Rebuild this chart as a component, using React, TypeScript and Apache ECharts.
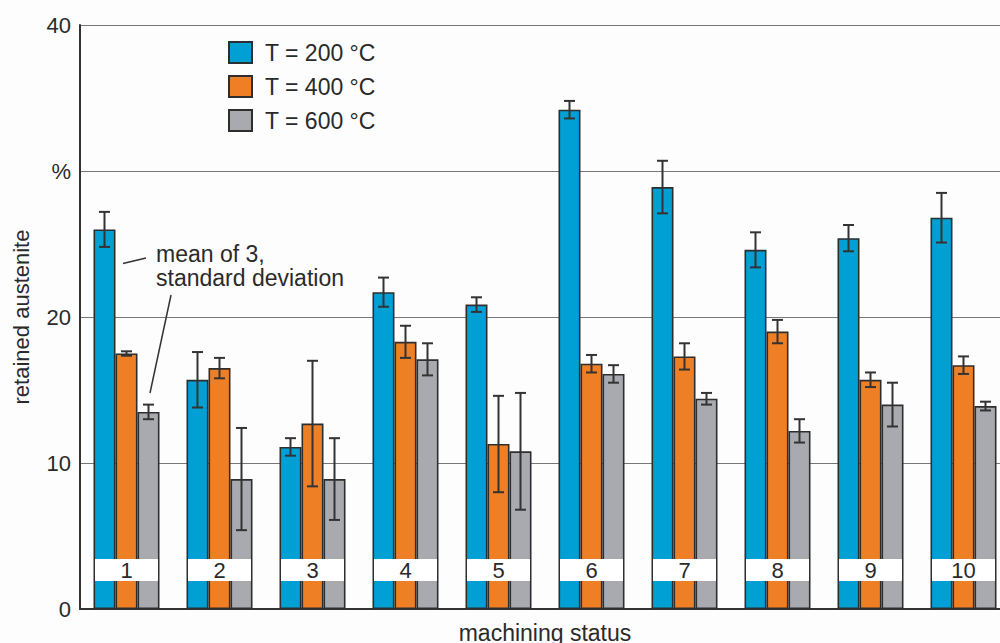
import React, { useEffect, useRef } from "react";
import * as echarts from "echarts";

const categories = ["1", "2", "3", "4", "5", "6", "7", "8", "9", "10"];
const seriesNames = ["T = 200 °C", "T = 400 °C", "T = 600 °C"];
const yTickLabels: Record<number, string> = { 0: "0", 10: "10", 20: "20", 30: "%", 40: "40" };

const mean200 = [26.0, 15.7, 11.1, 21.7, 20.85, 34.2, 28.9, 24.6, 25.4, 26.8];
const sd200 = [1.2, 1.9, 0.6, 1.0, 0.5, 0.6, 1.8, 1.2, 0.9, 1.7];
const mean400 = [17.5, 16.5, 12.7, 18.3, 11.3, 16.8, 17.3, 19.0, 15.7, 16.7];
const sd400 = [0.15, 0.7, 4.3, 1.1, 3.3, 0.6, 0.9, 0.8, 0.5, 0.6];
const mean600 = [13.5, 8.9, 8.9, 17.1, 10.8, 16.1, 14.4, 12.2, 14.0, 13.9];
const sd600 = [0.5, 3.5, 2.8, 1.1, 4.0, 0.6, 0.4, 0.8, 1.5, 0.3];

const colors = ["#009FD4", "#EE7F24", "#A8AAAF"];
const FONT = "'Liberation Sans', Arial, Helvetica, sans-serif";
const BAR_W = 22;

export default function App() {
  const ref = useRef<HTMLDivElement>(null);
  useEffect(() => {
    const chart = echarts.init(ref.current!, null, { renderer: "svg" });
    const means = [mean200, mean400, mean600];
    const sds = [sd200, sd400, sd600];

    const barSeries = means.map((m, s) => ({
      type: "bar",
      name: seriesNames[s],
      data: m,
      barWidth: BAR_W,
      barGap: "0%",
      z: 2,
      itemStyle: { color: colors[s], borderColor: "#2E2E2E", borderWidth: 1.6 },
    }));

    const errSeries = means.map((m, s) => ({
      type: "custom",
      z: 5,
      data: m.map((v, i) => [i, v - sds[s][i], v + sds[s][i]]),
      encode: { x: 0, y: [1, 2] },
      renderItem: (params: any, api: any) => {
        const i = api.value(0);
        const lo = api.coord([i, api.value(1)]);
        const hi = api.coord([i, api.value(2)]);
        const x = lo[0] + (s - 1) * BAR_W;
        const half = 5.5;
        const st = { stroke: "#333", lineWidth: 2 };
        return {
          type: "group",
          children: [
            { type: "line", shape: { x1: x, y1: hi[1], x2: x, y2: lo[1] }, style: st },
            { type: "line", shape: { x1: x - half, y1: hi[1], x2: x + half, y2: hi[1] }, style: st },
            { type: "line", shape: { x1: x - half, y1: lo[1], x2: x + half, y2: lo[1] }, style: st },
          ],
        };
      },
    }));

    const labelSeries = {
      type: "custom",
      z: 10,
      data: categories.map((c, i) => [i, 0]),
      encode: { x: 0, y: 1 },
      renderItem: (params: any, api: any) => {
        const i = api.value(0);
        const p = api.coord([i, 0]);
        return {
          type: "group",
          children: [
            { type: "rect", shape: { x: p[0] - 31.5, y: p[1] - 50, width: 63, height: 22 }, style: { fill: "#ffffff" } },
            {
              type: "text",
              style: {
                text: categories[i],
                x: p[0],
                y: p[1] - 38.5,
                align: "center",
                verticalAlign: "middle",
                fontSize: 22,
                fontFamily: FONT,
                fill: "#2a2a2a",
              },
            },
          ],
        };
      },
    };

    const option: any = {
      animation: false,
      backgroundColor: "#fdfdfd",
      textStyle: { fontFamily: FONT },
      grid: { left: 80, right: -10, top: 25, bottom: 34, containLabel: false, outerBoundsMode: "none" },
      legend: {
        data: seriesNames,
        orient: "vertical",
        left: 223,
        top: 36,
        itemWidth: 23,
        itemHeight: 21,
        itemGap: 11,
        icon: "rect",
        selectedMode: false,
        textStyle: { fontSize: 23, color: "#2a2a2a", fontFamily: FONT, padding: [0, 0, 0, 8] },
      },
      xAxis: {
        type: "category",
        data: categories,
        name: "machining status",
        nameLocation: "middle",
        nameGap: 12,
        nameTextStyle: { fontSize: 23, color: "#2a2a2a", fontFamily: FONT },
        axisLine: { show: true, lineStyle: { color: "#333", width: 2 } },
        axisTick: { show: false },
        axisLabel: { show: false },
        splitLine: { show: false },
      },
      yAxis: {
        type: "value",
        min: 0,
        max: 40,
        interval: 10,
        name: "retained austenite",
        nameLocation: "middle",
        nameGap: 48,
        nameTextStyle: { fontSize: 22, color: "#2a2a2a", fontFamily: FONT },
        axisLine: { show: true, lineStyle: { color: "#333", width: 2 } },
        axisTick: { show: false },
        axisLabel: {
          fontSize: 22,
          color: "#2a2a2a",
          fontFamily: FONT,
          margin: 9,
          formatter: (v: number) => yTickLabels[v] ?? String(v),
        },
        splitLine: { show: true, lineStyle: { color: "#777", width: 1 } },
      },
      graphic: [
        {
          type: "text",
          left: 156,
          top: 242,
          z: 20,
          style: {
            text: "mean of 3,\nstandard deviation",
            fontSize: 23,
            lineHeight: 24,
            fontFamily: FONT,
            fill: "#2a2a2a",
          },
        },
        { type: "line", z: 20, shape: { x1: 123, y1: 263.5, x2: 146, y2: 258 }, style: { stroke: "#333", lineWidth: 1.5 } },
        { type: "line", z: 20, shape: { x1: 171, y1: 295, x2: 150, y2: 393 }, style: { stroke: "#333", lineWidth: 1.5 } },
      ],
      series: [...barSeries, ...errSeries, labelSeries],
    };
    chart.setOption(option);
    return () => chart.dispose();
  }, []);
  return (
    <div
      ref={ref}
      style={{ position: "absolute", left: 0, top: 0, width: 1000, height: 643 }}
    />
  );
}
